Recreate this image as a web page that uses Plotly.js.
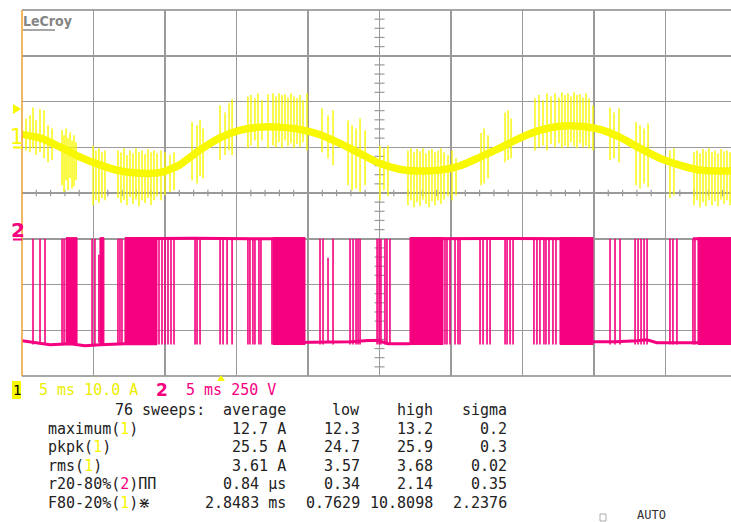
<!DOCTYPE html>
<html><head><meta charset="utf-8">
<script src="https://cdn.plot.ly/plotly-3.0.1.min.js"></script>
<style>html,body{margin:0;padding:0;background:#fff;overflow:hidden}</style>
</head><body><div id="chart" style="width:731px;height:522px"></div>
<script>
// ---------- Channel 1 : current (A), 10 A/div, 5 ms/div ----------
const ch1Time    = [0, 1.3, 2.7, 4.1, 5.5, 6.9, 8.3, 9.7, 11.0, 12.4, 13.8, 15.2, 16.6, 18.0, 19.4, 20.8, 22.2, 23.6, 25.0, 26.4, 27.8, 29.2, 30.6, 32.0, 33.4, 34.8, 36.2, 37.6, 39.0, 40.4, 41.8, 43.2, 44.6, 46.0, 47.4, 48.8, 49.6];
const ch1Current = [2.8, 2.0, 0, -2.2, -3.9, -5.2, -5.7, -5.5, -3.9, -0.7, 2.0, 3.7, 4.4, 4.4, 3.9, 2.8, 0.9, -1.3, -3.5, -4.8, -5.2, -5.0, -4.1, -2.2, -0.2, 2.0, 3.7, 4.6, 4.6, 3.9, 2.2, -0.2, -2.4, -3.9, -5.0, -5.2, -5.2];

// switching spikes on channel 1 (time ms, top A, bottom A)
const spikeTime = [0.28,0.56,0.77,0.98,1.26,1.54,1.82,2.10,
  2.80,2.94,3.08,3.22,3.36,3.50,3.64,3.78,
  4.97,5.17,5.38,5.59,5.80,
  6.71,6.92,7.13,7.34,7.55,7.76,7.97,8.18,8.39,8.60,8.81,9.02,9.23,9.44,9.72,10.00,10.35,10.63,
  11.89,12.24,12.45,12.66,13.85,14.20,14.48,14.69,15.80,16.01,16.29,16.50,16.78,17.20,
  17.55,17.76,17.97,18.18,18.39,18.60,18.81,19.02,19.23,19.44,19.65,19.93,
  20.98,21.40,21.75,22.80,23.08,23.36,23.64,23.99,25.03,25.31,25.59,
  26.99,27.20,27.41,27.62,27.83,28.04,28.25,28.46,28.67,28.88,29.09,29.30,29.51,29.79,30.07,30.35,
  32.10,32.31,32.59,33.78,33.99,34.20,
  35.87,36.15,36.43,36.71,36.99,37.27,37.55,37.76,37.97,38.18,38.39,38.60,38.81,39.02,39.23,39.44,39.65,39.93,
  41.12,41.40,41.75,42.94,43.22,43.50,43.78,45.31,45.59,
  46.99,47.20,47.41,47.62,47.83,48.04,48.25,48.46,48.67,48.88,49.09,49.30,49.51];
const spikeHigh = [6.3,7.0,8.7,5.9,8.3,8.1,4.8,4.1,
  3.7,2.6,4.1,2.0,3.3,1.5,2.6,1.1,
  0.4,-0.7,-0.2,-1.1,-0.7,
  -0.7,-1.1,-0.2,-1.7,-0.7,-1.3,-0.2,-1.1,-0.7,-1.5,-0.4,-1.1,-0.7,-1.3,-0.7,-1.1,-1.7,-1.1,
  5.5,4.8,5.9,4.1,9.2,7.6,9.6,10.5,11.1,11.4,10.7,11.8,10.3,11.6,
  11.8,11.1,11.8,11.4,11.6,10.9,11.8,11.1,10.7,11.4,10.3,11.8,
  8.5,7.0,8.1,5.9,4.8,4.1,6.3,3.7,0.4,-0.2,0.4,
  -0.7,-0.2,-1.1,-0.4,-0.9,-0.2,-1.3,-0.7,-0.4,-1.1,-0.7,-0.2,-1.1,-1.7,-0.7,-2.4,
  3.1,4.1,2.6,7.6,8.1,6.3,
  10.7,11.4,10.3,11.8,11.1,11.8,10.9,12.0,11.4,11.8,11.1,12.0,11.4,11.6,10.9,11.8,10.7,9.2,
  8.7,7.6,8.5,5.5,4.8,4.1,5.2,-0.7,-0.2,
  -1.1,-0.7,-1.3,-0.4,-0.9,-0.2,-1.1,-0.7,-1.3,-0.4,-0.9,-0.7,-1.1];
const spikeLow = [-0.7,-1.1,-0.2,-1.7,-1.1,-2.4,-3.3,-2.8,
  -8.3,-9.8,-7.2,-9.4,-6.8,-9.0,-8.5,-7.2,
  -12.7,-11.6,-12.2,-11.1,-11.6,
  -11.1,-12.2,-11.6,-12.7,-10.9,-12.4,-11.4,-12.9,-11.6,-12.2,-11.1,-12.7,-11.6,-10.7,-11.6,-10.5,-9.8,-9.4,
  -7.2,-7.9,-6.3,-6.8,-2.8,-1.7,-0.7,-1.7,-0.2,0.4,1.5,-0.2,1.5,-0.2,
  0.4,0,1.1,-0.2,1.5,0.2,0.9,-0.2,0.7,0,1.1,-0.7,
  -1.1,-2.4,-3.9,-8.3,-9.4,-9.0,-9.8,-8.3,-11.6,-9.4,-10.7,
  -12.7,-11.6,-13.1,-12.0,-12.9,-11.4,-12.4,-13.1,-11.8,-12.7,-11.6,-12.4,-11.4,-10.7,-11.6,-10.5,
  -8.3,-7.9,-6.8,-3.3,-2.8,-2.4,
  -0.7,0,0.4,-0.7,0.7,0,0.9,-0.2,0.4,0,1.1,0.2,-0.2,0.9,0,0.4,-0.2,-0.7,
  -2.8,-2.4,-3.3,-8.3,-9.0,-7.9,-8.7,-11.1,-10.5,
  -12.7,-11.6,-13.1,-12.0,-12.9,-11.6,-12.7,-11.8,-12.9,-11.4,-12.4,-11.6,-12.7];

// ---------- Channel 2 : voltage (V), 250 V/div ----------
// resting level segments (null separates segments)
const ch2Time = [0, 0.91, 1.96, 3.36, 4.41, 5.45, 7.20, 9.44, null,
  7.20, 12.0, 16.0, 19.79, null,
  17.55, 21.0, 23.0, 24.2, 24.9, 25.6, 27.13, null,
  27.13, 33.0, 39.93, null,
  37.62, 41.5, 43.0, 43.7, 44.4, 47.0, 49.58, null,
  46.92, 49.58];
const ch2Volt = [-557, -568, -579, -574, -585, -579, -574, -574, null,
  0, 3, 0, 0, null,
  -568, -563, -563, -556, -556, -574, -574, null,
  0, 2, 0, null,
  -563, -563, -557, -552, -568, -568, -568, null,
  0, 0];
// isolated switching edges (full swing)
const edgeTime = [0.77,1.26,1.61,2.80,2.94,4.90,5.10,6.71,6.85,6.99,9.58,9.79,10.00,10.21,10.42,10.63,
  12.10,12.24,12.45,13.85,14.06,14.34,14.69,15.80,15.94,16.15,16.29,16.57,16.71,17.48,
  20.84,21.05,21.75,22.94,23.15,23.36,23.50,23.64,24.83,24.97,25.10,25.38,25.52,25.73,
  29.58,29.72,29.93,30.28,30.49,30.63,32.03,32.24,32.52,32.73,33.78,33.92,34.13,34.34,
  35.80,36.01,36.22,36.50,36.64,36.85,37.13,37.34,
  41.12,41.47,41.82,42.87,43.08,43.29,43.50,43.71,45.31,45.52,45.80,46.92,47.06];
// partial edges
const partTime = [5.38, 21.40];
const partTop  = [-87, -104];
const partBot  = [-568, -568];
// densely switching intervals (ms)
const blockStart = [3.08, 5.45, 7.20, 17.55, 27.13, 37.62, 47.27];
const blockEnd   = [3.85, 5.73, 9.44, 19.79, 29.44, 39.93, 49.58];
const ch2High = 0, ch2Low = -578;

// ---------- measurement table ----------
const rowNames    = ['maximum', 'pkpk', 'rms', 'r20-80%', 'F80-20%'];
const rowChannel  = [1, 1, 1, 2, 1];
const rowSymbol   = ['', '', '', 'ΠΠ', '⋇'];
const avgVals     = ['12.7 A', '25.5 A', '3.61 A', '0.84 µs', '2.8483 ms'];
const lowVals     = ['12.3', '24.7', '3.57', '0.34', '0.7629'];
const highVals    = ['13.2', '25.9', '3.68', '2.14', '10.8098'];
const sigmaVals   = ['0.2', '0.3', '0.02', '0.35', '2.2376'];
const headers     = ['76 sweeps:', 'average', 'low', 'high', 'sigma'];

// ---------- scales ----------
const YEL = '#f8f800', PINK = '#f5007f', GRID = '#9a9a9a';
const OFF1 = 1.0, OFF2 = -1.0, A_DIV = 10, V_DIV = 250;
const y1 = a => OFF1 + a / A_DIV;
const y2 = v => v === null ? null : OFF2 + v / V_DIV;
const XMAX = 49.58;

// build traces
const bx = [], by = [];
blockStart.forEach((s, i) => {
  const e = blockEnd[i];
  bx.push(s, e, e, s, s, null);
  by.push(y2(ch2High + 6), y2(ch2High + 6), y2(ch2Low), y2(ch2Low), y2(ch2High + 6), null);
});
const ex = [], ey = [];
edgeTime.forEach(t => { ex.push(t, t, null); ey.push(y2(ch2High), y2(ch2Low), null); });
partTime.forEach((t, i) => { ex.push(t, t, null); ey.push(y2(partTop[i]), y2(partBot[i]), null); });
const sx = [], sy = [];
spikeTime.forEach((t, i) => { sx.push(t, t, null); sy.push(y1(spikeHigh[i]), y1(spikeLow[i]), null); });

const traces = [
  {x: bx, y: by, mode: 'lines', fill: 'toself', fillcolor: PINK, line: {color: PINK, width: 1}, hoverinfo: 'skip'},
  {x: ex, y: ey, mode: 'lines', line: {color: PINK, width: 1.6}, hoverinfo: 'skip'},
  {x: ch2Time, y: ch2Volt.map(y2), mode: 'lines', line: {color: PINK, width: 3}, connectgaps: false, hoverinfo: 'skip'},
  {x: sx, y: sy, mode: 'lines', line: {color: YEL, width: 1.4}, hoverinfo: 'skip'},
  {x: ch1Time, y: ch1Current.map(y1), mode: 'lines', line: {color: YEL, width: 7.5, shape: 'spline', smoothing: 0.6}, hoverinfo: 'skip'}
];

// ---------- decorations ----------
const PX = px => (px - 22) / 709;
const PY = py => (376 - py) / 366;
const shapes = [];
// borders
shapes.push({type: 'line', xref: 'paper', yref: 'paper', x0: 0, x1: 1, y0: 1, y1: 1, line: {color: '#8a8a8a', width: 1.5}, layer: 'below'});
shapes.push({type: 'line', xref: 'paper', yref: 'paper', x0: 0, x1: 1, y0: 0, y1: 0, line: {color: '#8a8a8a', width: 1.5}, layer: 'below'});
shapes.push({type: 'line', xref: 'paper', yref: 'paper', x0: 0, x1: 0, y0: 0, y1: 1, line: {color: '#f0a030', width: 1.5}, layer: 'above'});
// minor ticks along centre lines
for (let t = 1; t < XMAX; t += 1) {
  if (t % 5 === 0) continue;
  shapes.push({type: 'line', xref: 'x', yref: 'y', x0: t, x1: t, y0: -0.07, y1: 0.07, line: {color: GRID, width: 1.2}, layer: 'below'});
}
for (let k = -19; k <= 19; k++) {
  if (k % 5 === 0) continue;
  shapes.push({type: 'line', xref: 'x', yref: 'y', x0: 24.65, x1: 25.35, y0: k * 0.2, y1: k * 0.2, line: {color: GRID, width: 1.2}, layer: 'below'});
}
// channel markers on the left
shapes.push({type: 'path', xref: 'paper', yref: 'paper', path: `M${PX(13)},${PY(104)} L${PX(13)},${PY(114)} L${PX(21)},${PY(109)} Z`, fillcolor: YEL, line: {width: 0}});
shapes.push({type: 'line', xref: 'paper', yref: 'paper', x0: PX(13), x1: PX(22), y0: PY(147.5), y1: PY(147.5), line: {color: YEL, width: 2}});
shapes.push({type: 'line', xref: 'paper', yref: 'paper', x0: PX(13), x1: PX(22), y0: PY(239.5), y1: PY(239.5), line: {color: PINK, width: 2}});
// trigger position marker
shapes.push({type: 'path', xref: 'paper', yref: 'paper', path: `M${PX(217)},${PY(381)} L${PX(225)},${PY(381)} L${PX(221)},${PY(375)} Z`, fillcolor: YEL, line: {width: 0}});
// LeCroy underline
shapes.push({type: 'line', xref: 'paper', yref: 'paper', x0: PX(23), x1: PX(55), y0: PY(30), y1: PY(30), line: {color: '#8a8a8a', width: 1.5}});
// channel-1 label box
shapes.push({type: 'rect', xref: 'paper', yref: 'paper', x0: PX(12), x1: PX(21), y0: PY(399), y1: PY(381), fillcolor: YEL, line: {width: 0}});
// AUTO checkbox
shapes.push({type: 'rect', xref: 'paper', yref: 'paper', x0: PX(600), x1: PX(606), y0: PY(521), y1: PY(514), fillcolor: 'rgba(0,0,0,0)', line: {color: '#aaa', width: 1}});

const MONO = 'DejaVu Sans Mono';
const TXT = '#222';
const ann = [];
function A(text, px, py, anchor, color, size, family) {
  ann.push({xref: 'paper', yref: 'paper', x: PX(px), y: PY(py), text: text, showarrow: false,
    xanchor: anchor, yanchor: 'middle', borderpad: 0,
    font: {family: family || MONO, size: size || 15, color: color || TXT}});
}
A('<b>LeCroy</b>', 22, 21, 'left', '#858585', 14, 'DejaVu Sans Condensed');
A('1', 16.5, 137, 'center', YEL, 21, 'DejaVu Sans');
A('<b>2</b>', 17.5, 230, 'center', PINK, 20, 'DejaVu Sans');
A('1', 16.5, 390, 'center', '#000', 14, MONO);
A('5 ms 10.0 A', 38, 390, 'left', '#eded00', 15);
A('<b>2</b>', 162, 390, 'center', PINK, 17, 'DejaVu Sans');
A('5 ms 250 V', 185, 390, 'left', PINK, 15);
// header
A(headers[0], 206, 410, 'right');
A(headers[1], 287, 410, 'right');
A(headers[2], 361, 410, 'right');
A(headers[3], 434, 410, 'right');
A(headers[4], 508, 410, 'right');
rowNames.forEach((n, i) => {
  const yy = 428.5 + i * 18.5;
  const col = rowChannel[i] === 1 ? YEL : PINK;
  A(`${n}(<span style="color:${col}">${rowChannel[i]}</span>)${rowSymbol[i]}`, 47, yy, 'left');
  A(avgVals[i], 287, yy, 'right');
  A(lowVals[i], 361, yy, 'right');
  A(highVals[i], 434, yy, 'right');
  A(sigmaVals[i], 508, yy, 'right');
});
ann.push({xref: 'paper', yref: 'paper', x: PX(636), y: PY(507), text: 'AUTO', showarrow: false, xanchor: 'left', yanchor: 'top', borderpad: 0, font: {family: MONO, size: 12, color: '#333'}});

const layout = {
  width: 731, height: 522,
  margin: {l: 22, r: 0, t: 10, b: 146, pad: 0},
  paper_bgcolor: '#fff', plot_bgcolor: '#fff',
  showlegend: false,
  xaxis: {range: [0, XMAX], dtick: 5, tick0: 0, showgrid: true, gridcolor: GRID, gridwidth: 1.5,
    zeroline: false, showticklabels: false, ticks: '', showline: false, fixedrange: true},
  yaxis: {range: [-4, 4], dtick: 1, tick0: 0, showgrid: true, gridcolor: GRID, gridwidth: 1.5,
    zeroline: false, showticklabels: false, ticks: '', showline: false, fixedrange: true},
  shapes: shapes,
  annotations: ann
};
Plotly.newPlot('chart', traces, layout, {displayModeBar: false, staticPlot: true});
</script></body></html>
